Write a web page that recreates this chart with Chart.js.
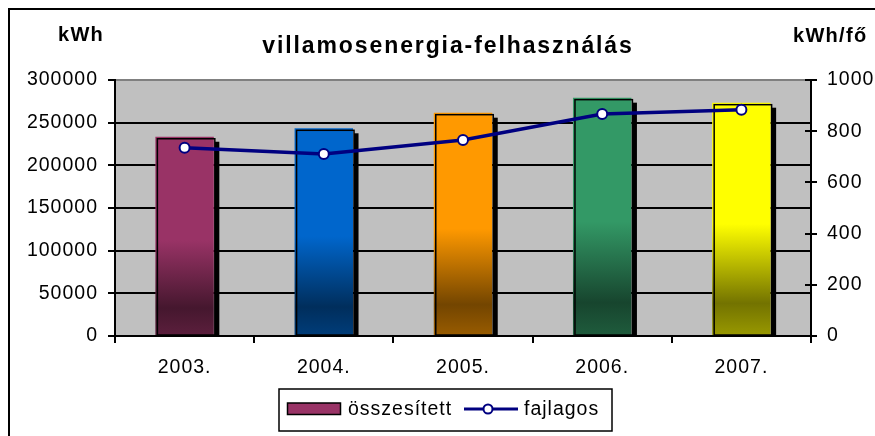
<!DOCTYPE html>
<html>
<head>
<meta charset="utf-8">
<script src="https://cdn.jsdelivr.net/npm/chart.js@4.4.1/dist/chart.umd.min.js"></script>
<style>
  html, body { margin: 0; padding: 0; background: #fff; overflow: hidden; }
</style>
</head>
<body>
<canvas id="chart" width="875" height="436"></canvas>
<script>
const years = ['2003.', '2004.', '2005.', '2006.', '2007.'];
const totalKwh = [233500, 243400, 261700, 279300, 273400];
const perCapita = [735, 711, 766, 867, 884];
const barColors = ['#993366', '#0066CC', '#FF9900', '#339966', '#FFFF00'];
const kwhTicks = [0, 50000, 100000, 150000, 200000, 250000, 300000];
const perCapitaTicks = [0, 200, 400, 600, 800, 1000];

Chart.defaults.font.family = '"Liberation Sans", Arial, sans-serif';
Chart.defaults.font.size = 19.5;
Chart.defaults.color = '#000';

function shade(hex, f) {
  const n = parseInt(hex.slice(1), 16);
  const r = Math.round(((n >> 16) & 255) * f);
  const g = Math.round(((n >> 8) & 255) * f);
  const b = Math.round((n & 255) * f);
  return `rgb(${r},${g},${b})`;
}

function barGradient(c) {
  const color = barColors[c.dataIndex];
  const chart = c.chart;
  if (!chart.chartArea || c.type !== 'data') return color;
  const ys = chart.scales.y;
  const top = ys.getPixelForValue(c.raw);
  const base = ys.getPixelForValue(0);
  const g = chart.ctx.createLinearGradient(0, top, 0, base);
  g.addColorStop(0, color);
  g.addColorStop(0.52, color);
  g.addColorStop(0.86, shade(color, 0.45));
  g.addColorStop(1, shade(color, 0.6));
  return g;
}

// grey plot area, outer frame, default letter spacing
const backdrop = {
  id: 'backdrop',
  beforeDraw(chart) {
    const { ctx, chartArea: a } = chart;
    ctx.letterSpacing = '1px';
    ctx.save();
    ctx.fillStyle = '#C0C0C0';
    ctx.fillRect(a.left, a.top, a.right - a.left, a.bottom - a.top);
    ctx.strokeStyle = '#000';
    ctx.lineWidth = 2;
    ctx.beginPath();
    ctx.moveTo(9, 436);
    ctx.lineTo(9, 9);
    ctx.lineTo(875, 9);
    ctx.stroke();
    ctx.restore();
  },
};

// black outline + drop shadow of the bars
const barShadow = {
  id: 'barShadow',
  afterDatasetDraw(chart, args) {
    if (args.index !== 0) return;
    const ctx = chart.ctx;
    ctx.save();
    args.meta.data.forEach(bar => {
      const { x, y, base, width } = bar.getProps(['x', 'y', 'base', 'width'], true);
      const l = x - width / 2, r = x + width / 2;
      ctx.fillStyle = '#000';
      ctx.fillRect(r + 1, y + 5, 4.5, base - y - 5);
      ctx.strokeStyle = '#000';
      ctx.lineWidth = 1.5;
      ctx.strokeRect(l + 2, y + 2, width - 1, base - y - 2);
    });
    ctx.restore();
  },
};

// texts, legend and inner ticks of the right axis
const extras = {
  id: 'extras',
  afterDraw(chart) {
    const { ctx, chartArea: a } = chart;
    const y2 = chart.scales.y2;
    ctx.save();
    ctx.strokeStyle = '#000';
    ctx.lineWidth = 2;
    y2.ticks.forEach((t, i) => {
      const py = Math.round(y2.getPixelForTick(i));
      ctx.beginPath();
      ctx.moveTo(a.right - 6, py);
      ctx.lineTo(a.right, py);
      ctx.stroke();
    });

    ctx.fillStyle = '#000';
    ctx.textBaseline = 'alphabetic';
    ctx.letterSpacing = '1.9px';
    ctx.font = 'bold 23px "Liberation Sans", Arial, sans-serif';
    ctx.textAlign = 'center';
    ctx.fillText('villamosenergia-felhasználás', 448, 53);
    ctx.letterSpacing = '1.3px';
    ctx.font = 'bold 20px "Liberation Sans", Arial, sans-serif';
    ctx.textAlign = 'left';
    ctx.fillText('kWh', 58, 41);
    ctx.fillText('kWh/fő', 793, 42);

    // legend
    const ds = chart.data.datasets;
    ctx.letterSpacing = '1px';
    ctx.font = '19.5px "Liberation Sans", Arial, sans-serif';
    ctx.lineWidth = 1.5;
    ctx.strokeRect(279, 389, 333, 42);
    ctx.fillStyle = barColors[0];
    ctx.fillRect(287.5, 403, 53, 11.5);
    ctx.strokeRect(287.5, 403, 53, 11.5);
    ctx.fillStyle = '#000';
    ctx.textBaseline = 'middle';
    ctx.fillText(ds[0].label, 348, 410);
    ctx.strokeStyle = ds[1].borderColor;
    ctx.lineWidth = 3;
    ctx.beginPath();
    ctx.moveTo(464, 409);
    ctx.lineTo(518, 409);
    ctx.stroke();
    ctx.beginPath();
    ctx.arc(488, 409, 4.5, 0, Math.PI * 2);
    ctx.fillStyle = '#fff';
    ctx.fill();
    ctx.lineWidth = 2;
    ctx.stroke();
    ctx.fillStyle = '#000';
    ctx.fillText(ds[1].label, 524, 410);
    ctx.restore();
  },
};

new Chart(document.getElementById('chart'), {
  type: 'bar',
  data: {
    labels: years,
    datasets: [
      {
        type: 'bar',
        label: 'összesített',
        data: totalKwh,
        yAxisID: 'y',
        backgroundColor: barGradient,
        borderWidth: 0,
        categoryPercentage: 1,
        barPercentage: 0.42,
        order: 1,
      },
      {
        type: 'line',
        label: 'fajlagos',
        data: perCapita,
        yAxisID: 'y2',
        borderColor: '#000080',
        borderWidth: 3.5,
        pointRadius: 5,
        pointBorderWidth: 2,
        pointBackgroundColor: '#fff',
        pointBorderColor: '#000080',
        tension: 0,
        order: 0,
      },
    ],
  },
  options: {
    responsive: false,
    animation: false,
    devicePixelRatio: 1,
    layout: { padding: { top: 80, left: 0, right: 0, bottom: 0 } },
    plugins: {
      legend: { display: false },
      tooltip: { enabled: false },
    },
    scales: {
      x: {
        offset: true,
        grid: { offset: true, drawOnChartArea: false, drawTicks: true, tickLength: 7, color: '#000', lineWidth: 2 },
        border: { color: '#000', width: 2 },
        ticks: { padding: 13, maxRotation: 0 },
        afterFit: s => { s.height = 100; },
      },
      y: {
        position: 'left',
        min: 0,
        max: 300000,
        afterBuildTicks: s => { s.ticks = kwhTicks.map(v => ({ value: v })); },
        grid: {
          color: c => (c.tick && c.tick.value === 300000 ? '#808080' : '#000'),
          tickColor: '#000',
          lineWidth: 2,
          tickLength: 7,
        },
        border: { color: '#000', width: 2 },
        ticks: { padding: 10, callback: v => String(v) },
        afterFit: s => { s.width = 115; },
      },
      y2: {
        position: 'right',
        min: 0,
        max: 1000,
        afterBuildTicks: s => { s.ticks = perCapitaTicks.map(v => ({ value: v })); },
        grid: { drawOnChartArea: false, color: '#000', lineWidth: 2, tickLength: 6 },
        border: { color: '#000', width: 2 },
        ticks: { padding: 10, callback: v => String(v) },
        afterFit: s => { s.width = 64; },
      },
    },
  },
  plugins: [backdrop, barShadow, extras],
});
</script>
</body>
</html>
